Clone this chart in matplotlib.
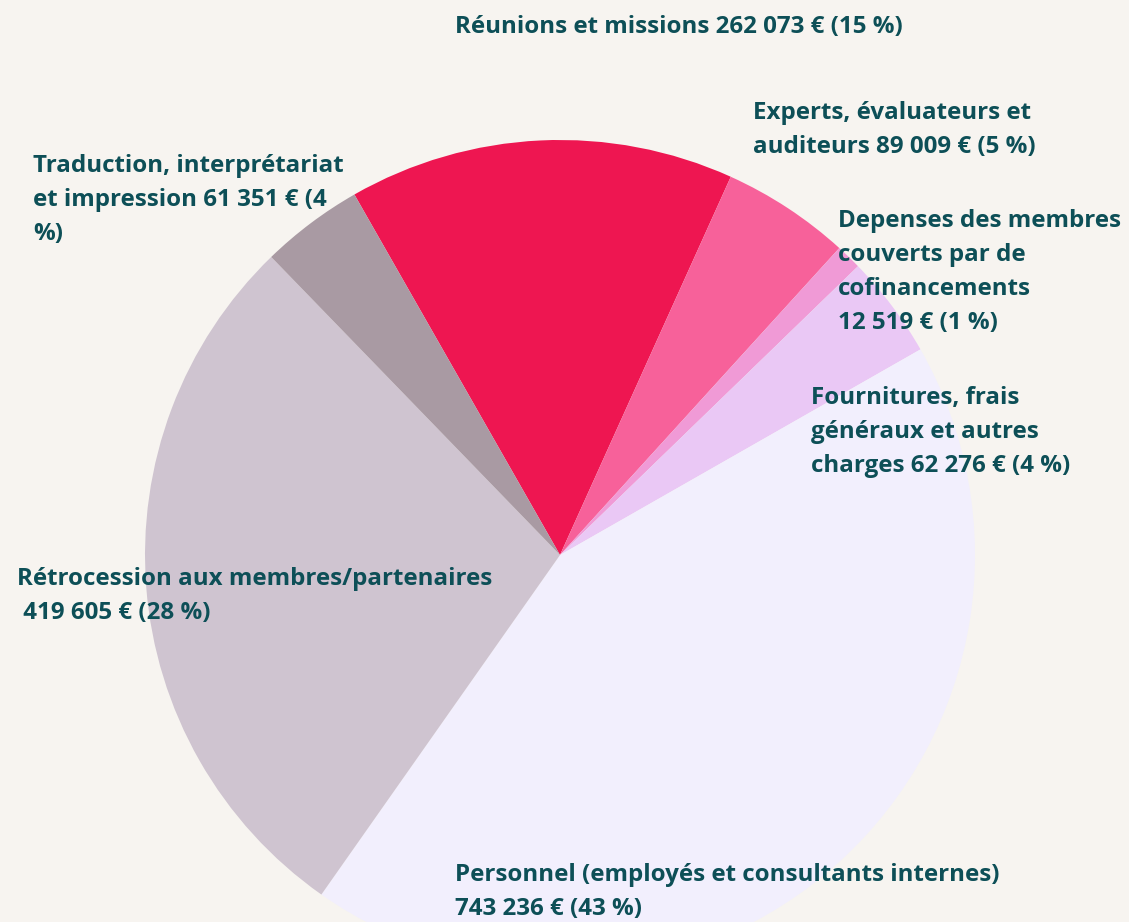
import matplotlib
matplotlib.use("Agg")
import matplotlib.pyplot as plt

# slice order follows the reference (clockwise from the top-left edge of "Réunions")
labels = [
    "Réunions et missions 262 073 € (15 %)",
    "Experts, évaluateurs et\nauditeurs 89 009 € (5 %)",
    "Depenses des membres\ncouverts par de\ncofinancements\n12 519 € (1 %)",
    "Fournitures, frais\ngénéraux et autres\ncharges 62 276 € (4 %)",
    "Personnel (employés et consultants internes)\n743 236 € (43 %)",
    "Rétrocession aux membres/partenaires\n 419 605 € (28 %)",
    "Traduction, interprétariat\net impression 61 351 € (4\n%)",
]
shares = [15, 5, 1, 4, 43, 28, 4]
colors = ["#EE1651", "#F7619A", "#F09AD6", "#EAC8F5", "#F2EFFD", "#CFC4D0", "#A99AA3"]

# label anchor (left, baseline of last line) in pixels from the top-left corner
label_pos = [(455, 33), (753, 153), (838, 329), (811, 472), (455, 915), (17, 619), (33, 240)]

W, H = 1129, 922
BG = "#F7F4F0"
TXT = "#0D4F57"

fig = plt.figure(figsize=(W / 100, H / 100), dpi=100, facecolor=BG)
ax = fig.add_axes([0, 0, 1, 1])
ax.set_facecolor(BG)

ax.pie(shares, colors=colors, startangle=119.7, counterclock=False,
       center=(560, H - 555), radius=415,
       wedgeprops=dict(linewidth=0))
ax.set_xlim(0, W)
ax.set_ylim(0, H)
ax.set_aspect("equal")
ax.axis("off")

for text, (x, y) in zip(labels, label_pos):
    ax.text(x, H - y, text, ha="left", va="baseline", fontsize=17.4,
            fontweight="bold", family="Open Sans", color=TXT, linespacing=1.55)

fig.savefig("out.png", dpi=100, facecolor=BG)
